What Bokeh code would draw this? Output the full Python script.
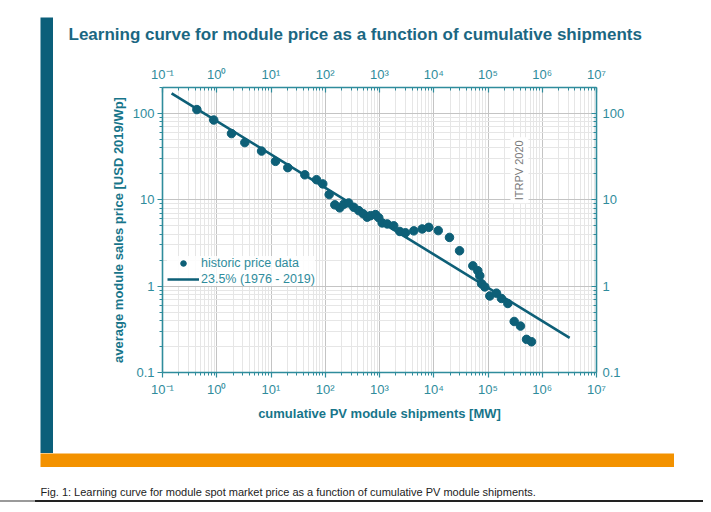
import math
from bokeh.plotting import figure
from bokeh.layouts import row, column
from bokeh.models import (LogAxis, FixedTicker, CustomJSTickFormatter, Label, Title,
                          Legend, LegendItem, Range1d, Spacer)
from bokeh.embed import file_html
from bokeh.resources import INLINE

# ---- data ----
shipments_mw = [0.43, 0.88, 1.87, 3.29, 6.7, 12.1, 20.4, 42, 69, 90, 118, 150, 185, 220,
                270, 336, 415, 500, 593, 682, 844, 970, 1120, 1390, 1830, 2370, 3010,
                4290, 6120, 8110, 12100, 19500, 29900, 52500, 64900, 70600, 75900, 87300,
                108000, 143500, 177000, 232000, 304000, 397000, 513000, 634000]
price_usd_wp = [111, 84, 58.5, 46, 36.7, 27.9, 23.6, 19.5, 17.1, 15.3, 11.5, 8.75, 8.07, 8.9,
                9.2, 8.2, 7.5, 6.9, 6.3, 6.55, 6.75, 6.2, 5.4, 5.26, 5.0, 4.3, 4.15,
                4.37, 4.6, 4.8, 4.4, 3.67, 2.57, 1.72, 1.51, 1.32, 1.07, 0.98,
                0.77, 0.83, 0.72, 0.63, 0.39, 0.345, 0.242, 0.227]
fit_x = [0.147, 3.2e6]
fit_y = [171, 0.252]

x_major_exp = [-1, 0, 1, 2, 3, 4, 5, 6, 7]
y_major = [0.1, 1, 10, 100]

title_text = "Learning curve for module price as a function of cumulative shipments"
caption_text = ("Fig. 1: Learning curve for module spot market price as a function of "
                "cumulative PV module shipments.")
x_label = "cumulative PV module shipments [MW]"
y_label = "average module sales price [USD 2019/Wp]"
legend_labels = ["historic price data", "23.5% (1976 - 2019)"]
watermark = "ITRPV 2020"

# ---- styles ----
DOT = "#0d5f77"
AXIS = "#2f8c9c"
LABEL = "#17758a"
TITLE = "#1b6782"
BAR = "#0b5f7a"
ORANGE = "#f39200"
FONT = "Liberation Sans"

x_major = [10.0 ** e for e in x_major_exp]
x_minor = [m * 10.0 ** e for e in x_major_exp[:-1] for m in range(2, 10)]
y_minor = [m * 10.0 ** e for e in range(-1, 3) for m in range(2, 10) if m * 10.0 ** e <= 200]

sup_fmt = CustomJSTickFormatter(code="""
const sup = {"-":"\u207b","0":"\u2070","1":"\u00b9","2":"\u00b2","3":"\u00b3","4":"\u2074",
             "5":"\u2075","6":"\u2076","7":"\u2077","8":"\u2078","9":"\u2079"};
const e = Math.round(Math.log10(tick));
return "10" + String(e).split("").map(c => sup[c]).join("");
""")
num_fmt = CustomJSTickFormatter(code="""
return tick < 1 ? tick.toFixed(1) : tick.toFixed(0);
""")


def panel(w, h, color="white"):
    f = figure(width=w, height=h, min_border=0, toolbar_location=None,
               output_backend="svg", title=None,
               x_axis_location=None, y_axis_location=None,
               x_range=Range1d(0, 1), y_range=Range1d(0, 1))
    f.grid.visible = False
    f.outline_line_color = None
    f.background_fill_color = color
    f.border_fill_color = color
    return f


# ---- main chart ----
p = figure(x_axis_type="log", y_axis_type="log",
           x_range=Range1d(0.1, 1e7), y_range=Range1d(0.1, 200),
           frame_width=434, frame_height=285,
           min_border_left=109, min_border_right=107,
           min_border_top=87, min_border_bottom=81,
           output_backend="svg", toolbar_location=None, title=None)
p.outline_line_color = None
p.background_fill_color = "white"
p.border_fill_color = "white"
p.title = Title(text=title_text, align="left", offset=-94, standoff=39,
                text_font=FONT, text_font_size="17px", text_font_style="bold",
                text_color=TITLE)

ax_ticks = {"x": x_major, "y": y_major}
ax_minor = {"x": x_minor, "y": y_minor}


def style_axis(ax, kind, inside):
    ax.ticker = FixedTicker(ticks=ax_ticks[kind], minor_ticks=ax_minor[kind])
    ax.axis_line_color = AXIS
    ax.axis_line_width = 1.6
    ax.major_tick_line_color = AXIS
    ax.minor_tick_line_color = AXIS
    ax.major_tick_line_width = 1.2
    ax.minor_tick_line_width = 1
    if inside:
        ax.major_tick_in, ax.major_tick_out = 5, 0
        ax.minor_tick_in, ax.minor_tick_out = 3, 0
    else:
        ax.major_tick_in, ax.major_tick_out = 0, 5
        ax.minor_tick_in, ax.minor_tick_out = 0, 3
    ax.major_label_text_font = FONT
    ax.major_label_text_font_size = "13px"
    ax.major_label_text_color = AXIS
    ax.axis_label_text_font = FONT
    ax.axis_label_text_font_size = "13px"
    ax.axis_label_text_font_style = "bold"
    ax.axis_label_text_color = LABEL


xb = p.xaxis[0]
yl = p.yaxis[0]
xb.formatter = sup_fmt
yl.formatter = num_fmt
xb.axis_label = x_label
yl.axis_label = y_label
xb.major_label_standoff = 4
xb.axis_label_standoff = 6
yl.major_label_standoff = 3
yl.axis_label_standoff = 4

xt = LogAxis(formatter=sup_fmt)
yr = LogAxis(formatter=num_fmt)
xt.major_label_standoff = 6
yr.major_label_standoff = 6
p.add_layout(xt, "above")
p.add_layout(yr, "right")

for ax, kind, inside in [(xb, "x", False), (yl, "y", False), (xt, "x", True), (yr, "y", True)]:
    style_axis(ax, kind, inside)

for g in (p.xgrid[0], p.ygrid[0]):
    g.grid_line_color = "#c4c4c4"
    g.grid_line_width = 1
    g.minor_grid_line_color = "#e6e6e6"
    g.minor_grid_line_width = 1

ln = p.line(fit_x, fit_y, line_color=DOT, line_width=2.6)
sc = p.scatter(shipments_mw, price_usd_wp, size=8.5, fill_color=DOT, line_color=DOT)

legend = Legend(items=[LegendItem(label=legend_labels[0], renderers=[sc]),
                       LegendItem(label=legend_labels[1], renderers=[ln])],
                location=(5, 86), padding=2, margin=0, spacing=2,
                glyph_width=32, glyph_height=14, label_height=14, label_standoff=2,
                label_text_font=FONT, label_text_font_size="12.5px",
                label_text_color=AXIS, border_line_color=None,
                background_fill_color="white", background_fill_alpha=0.85)
p.add_layout(legend)

p.add_layout(Label(x=3.8e5, y=22, text=watermark, angle=math.pi / 2,
                   text_align="center", text_baseline="middle",
                   text_font=FONT, text_font_size="11px", text_color="#7a7a7a",
                   background_fill_color="white", background_fill_alpha=1, padding=3))

# ---- page decorations ----
bar_fig = panel(13, 436, BAR)
orange_fig = panel(634, 14, ORANGE)

caption_fig = panel(703, 33)
caption_fig.add_layout(Label(x=40, y=9, x_units="screen", y_units="screen", text=caption_text,
                             text_font=FONT, text_font_size="11px",
                             text_color="#222222", text_baseline="middle"))

rule_light = Spacer(width=35, height=2, styles={"background-color": "#9a9a9a"})
rule_dark = Spacer(width=668, height=2, styles={"background-color": "#222222"})

top_row = row(Spacer(width=40, height=453),
              column(Spacer(width=13, height=17), bar_fig, spacing=0),
              p,
              spacing=0)
orange_row = row(Spacer(width=40, height=14), orange_fig, spacing=0)
rule_row = row(rule_light, rule_dark, spacing=0)

page = column(top_row, orange_row, caption_fig, rule_row, spacing=0)

open("out.html", "w").write(file_html(page, INLINE))
